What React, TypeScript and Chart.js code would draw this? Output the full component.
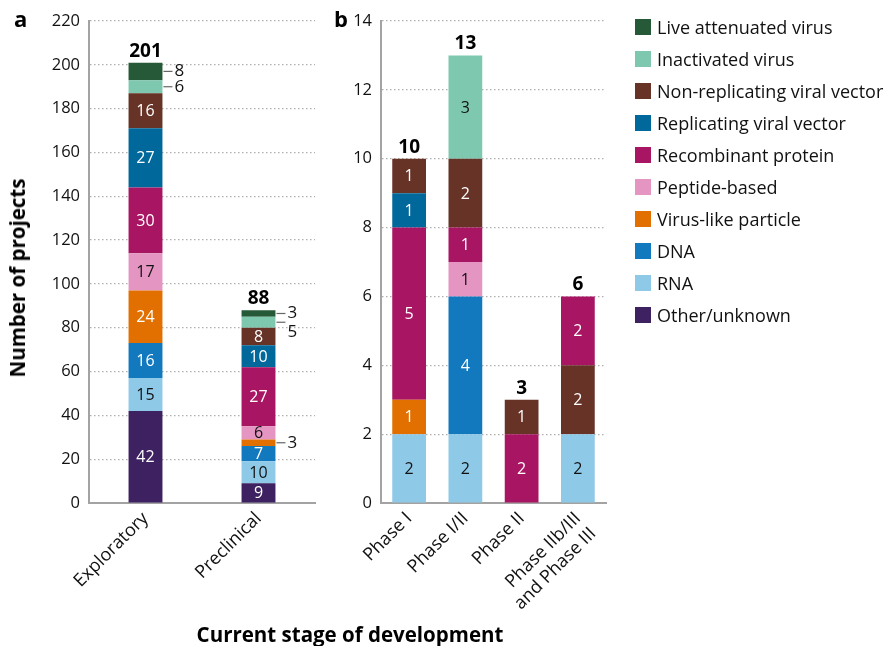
import React, { useEffect, useRef } from 'react';
import { Chart, registerables } from 'chart.js';
Chart.register(...registerables);

const FONT = '"Open Sans", "Noto Sans", sans-serif';

// Series (legend shows them in reverse order)
const seriesNames = [
  'Other/unknown',
  'RNA',
  'DNA',
  'Virus-like particle',
  'Peptide-based',
  'Recombinant protein',
  'Replicating viral vector',
  'Non-replicating viral vector',
  'Inactivated virus',
  'Live attenuated virus',
];
const seriesColors = [
  '#3d2160', '#8fc9e8', '#1279bf', '#e17000', '#e495c1',
  '#a81562', '#01689b', '#673327', '#7fc8b0', '#265937',
];
const darkLabel = [false, true, false, false, true, false, false, false, true, false];

// Panel a
const categoriesA = ['Exploratory', 'Preclinical'];
const otherA = [42, 9];
const rnaA = [15, 10];
const dnaA = [16, 7];
const vlpA = [24, 3];
const peptideA = [17, 6];
const recombinantA = [30, 27];
const replicatingA = [27, 10];
const nonReplicatingA = [16, 8];
const inactivatedA = [6, 5];
const liveA = [8, 3];
const ticksA = { min: 0, max: 220, step: 20 };

// Panel b
const categoriesB = ['Phase I', 'Phase I/II', 'Phase II', ['Phase IIb/III', 'and Phase III']];
const rnaB = [2, 2, 0, 2];
const dnaB = [0, 4, 0, 0];
const vlpB = [1, 0, 0, 0];
const peptideB = [0, 1, 0, 0];
const recombinantB = [5, 1, 2, 0];
const replicatingB = [1, 0, 0, 0];
const nonReplicatingB = [1, 2, 1, 2];
const recombinantUpperB = [0, 0, 0, 2]; // drawn above non-replicating in the last bar
const inactivatedB = [0, 3, 0, 0];
const ticksB = { min: 0, max: 14, step: 2 };

// Stacks, bottom to top: [series index, values]
const stackA: [number, number[]][] = [
  [0, otherA], [1, rnaA], [2, dnaA], [3, vlpA], [4, peptideA],
  [5, recombinantA], [6, replicatingA], [7, nonReplicatingA], [8, inactivatedA], [9, liveA],
];
const stackB: [number, number[]][] = [
  [1, rnaB], [2, dnaB], [3, vlpB], [4, peptideB], [5, recombinantB],
  [6, replicatingB], [7, nonReplicatingB], [5, recombinantUpperB], [8, inactivatedB],
];

// Labels drawn outside the bar with a leader line: [dataset index, category index, text offset y]
const outsideA: [number, number, number][] = [
  [9, 0, 0], [8, 0, 0], [9, 1, 0], [8, 1, 10], [3, 1, 0],
];
const outsideB: [number, number, number][] = [];

const legendOrder = [...seriesNames.keys()].reverse();

function makePlugin(outside: [number, number, number][]) {
  return {
    id: 'segLabels',
    afterDatasetsDraw(chart: any) {
      const ctx = chart.ctx;
      ctx.save();
      chart.data.datasets.forEach((ds: any, di: number) => {
        const meta = chart.getDatasetMeta(di);
        meta.data.forEach((bar: any, i: number) => {
          const v = ds.data[i];
          if (!v) return;
          const { x, y, base, width } = bar.getProps(['x', 'y', 'base', 'width'], true);
          const cy = (y + base) / 2;
          const out = outside.find((o) => o[0] === di && o[1] === i);
          if (out) {
            const xr = x + width / 2;
            ctx.strokeStyle = '#666';
            ctx.lineWidth = 1.2;
            ctx.beginPath();
            ctx.moveTo(xr + 1, cy);
            ctx.lineTo(xr + 10, cy);
            ctx.stroke();
            ctx.fillStyle = '#111';
            ctx.font = `17px ${FONT}`;
            ctx.textAlign = 'left';
            ctx.textBaseline = 'middle';
            ctx.fillText(String(v), xr + 12, cy + out[2]);
          } else {
            ctx.fillStyle = darkLabel[ds.seriesIndex] ? '#111' : '#ffffff';
            ctx.font = `16px ${FONT}`;
            ctx.textAlign = 'center';
            ctx.textBaseline = 'middle';
            ctx.fillText(String(v), x, cy + 1);
          }
        });
      });
      const n = chart.data.labels.length;
      const meta0 = chart.getDatasetMeta(0);
      for (let i = 0; i < n; i++) {
        let total = 0;
        chart.data.datasets.forEach((ds: any) => (total += ds.data[i] || 0));
        const yTop = chart.scales.y.getPixelForValue(total);
        const x = meta0.data[i].x;
        ctx.fillStyle = '#000';
        ctx.font = `bold 19px ${FONT}`;
        ctx.textAlign = 'center';
        ctx.textBaseline = 'alphabetic';
        ctx.fillText(String(total), x, yTop - 6);
      }
      ctx.restore();
    },
  };
}

function buildConfig(
  categories: any[],
  stack: [number, number[]][],
  ticks: { min: number; max: number; step: number },
  padLeft: number,
  padRight: number,
  yWidth: number,
  barPct: number,
  outside: [number, number, number][]
): any {
  return {
    type: 'bar',
    data: {
      labels: categories,
      datasets: stack.map(([si, vals]) => ({
        label: seriesNames[si],
        seriesIndex: si,
        data: vals,
        backgroundColor: seriesColors[si],
        borderWidth: 0,
        barPercentage: barPct,
        categoryPercentage: 1,
      })),
    },
    options: {
      responsive: false,
      animation: false,
      devicePixelRatio: 1,
      layout: { padding: { left: padLeft, right: padRight, top: 21, bottom: 0 } },
      plugins: { legend: { display: false }, tooltip: { enabled: false } },
      scales: {
        x: {
          stacked: true,
          grid: { display: false, drawTicks: false },
          border: { display: true, color: '#a3a3a3', width: 2 },
          ticks: {
            font: { family: FONT, size: 18 },
            color: '#111',
            maxRotation: 45,
            minRotation: 45,
            padding: 5,
            autoSkip: false,
          },
          afterFit: (s: any) => {
            s.height = 646 - 503;
          },
        },
        y: {
          stacked: true,
          min: ticks.min,
          max: ticks.max,
          ticks: {
            stepSize: ticks.step,
            font: { family: FONT, size: 16.5 },
            color: '#111',
            padding: 9,
          },
          grid: { color: '#b0b0b0', lineWidth: 1.2, drawTicks: false },
          border: { display: true, color: '#a3a3a3', width: 2, dash: [1.5, 2.5] },
          afterFit: (s: any) => {
            s.width = yWidth;
          },
        },
      },
    },
    plugins: [makePlugin(outside)],
  };
}

export default function App() {
  const refA = useRef<HTMLCanvasElement>(null);
  const refB = useRef<HTMLCanvasElement>(null);

  useEffect(() => {
    const a = new Chart(
      refA.current as HTMLCanvasElement,
      buildConfig(categoriesA, stackA, ticksA, 0, 886 - 315, 89, 0.3, outsideA)
    );
    const b = new Chart(
      refB.current as HTMLCanvasElement,
      buildConfig(categoriesB, stackB, ticksB, 381 - 40, 886 - 606, 40, 0.6, outsideB)
    );
    return () => {
      a.destroy();
      b.destroy();
    };
  }, []);

  const canvasStyle: React.CSSProperties = { position: 'absolute', left: 0, top: 0, width: 886, height: 646 };
  const textBase: React.CSSProperties = { position: 'absolute', fontFamily: FONT, color: '#000', whiteSpace: 'nowrap' };

  return (
    <div style={{ position: 'absolute', left: 0, top: 0, width: 886, height: 646, background: '#fff', overflow: 'hidden' }}>
      <canvas ref={refA} width={886} height={646} style={canvasStyle} />
      <canvas ref={refB} width={886} height={646} style={canvasStyle} />
      <div style={{ ...textBase, left: 14, top: 3, fontSize: 22, fontWeight: 700 }}>a</div>
      <div style={{ ...textBase, left: 334, top: 3, fontSize: 22, fontWeight: 700 }}>b</div>
      <div
        style={{
          ...textBase,
          left: 17,
          top: 278,
          fontSize: 20.5,
          fontWeight: 700,
          transform: 'translate(-50%, -50%) rotate(-90deg)',
        }}
      >
        Number of projects
      </div>
      <div style={{ ...textBase, left: 350, top: 634, fontSize: 20.5, fontWeight: 700, transform: 'translate(-50%, -50%)' }}>
        Current stage of development
      </div>
      {legendOrder.map((si, k) => (
        <div key={si} style={{ position: 'absolute', left: 635, top: 27 + k * 32 - 8, height: 16 }}>
          <div style={{ position: 'absolute', left: 0, top: 0, width: 16, height: 16, background: seriesColors[si] }} />
          <div style={{ ...textBase, left: 22, top: 8, fontSize: 18, lineHeight: '20px', transform: 'translateY(-50%)', color: '#111' }}>
            {seriesNames[si]}
          </div>
        </div>
      ))}
    </div>
  );
}
